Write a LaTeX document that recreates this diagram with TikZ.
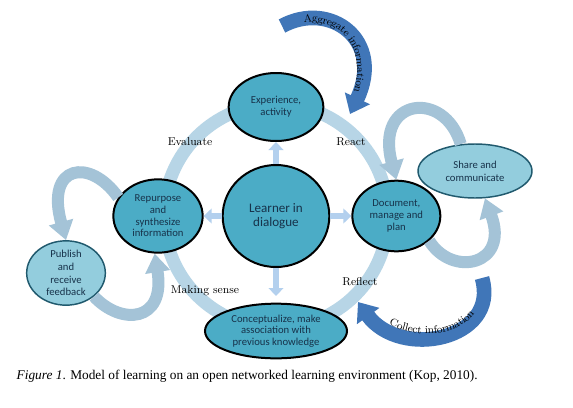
\documentclass[tikz,border=0pt]{standalone}
\usepackage{fontspec}
\usetikzlibrary{shapes,arrows.meta,positioning,backgrounds,decorations.text}

\newfontfamily\nodefont{Carlito}
\newfontfamily\capfont{Liberation Serif}
\newcommand\arrowlbl{\fontsize{8}{9}\selectfont}

\definecolor{nodeteal}{HTML}{4BACC6}
\definecolor{lightteal}{HTML}{93CDDD}
\definecolor{tealedge}{HTML}{215A6E}
\definecolor{ringblue}{HTML}{B7D5E6}
\definecolor{loopblue}{HTML}{A4C3D7}
\definecolor{darkarrow}{HTML}{4076B8}
\definecolor{smallarrow}{HTML}{B3D0EE}
\definecolor{nodetext}{HTML}{17324A}

\begin{document}
\begin{tikzpicture}[
    x=0.75pt, y=-0.75pt,
    mainnode/.style={ellipse, draw=black, line width=1.5pt, fill=nodeteal, text=nodetext, align=center, inner sep=0pt, font=\nodefont\fontsize{8}{8.8}\selectfont},
    sidenode/.style={ellipse, draw=tealedge, line width=1.1pt, fill=lightteal, text=nodetext, align=center, inner sep=0pt, font=\nodefont\fontsize{8}{9.5}\selectfont},
    ringlabel/.style={font=\fontsize{8.5}{10}\selectfont},
    ringband/.style={draw=ringblue, line width=9.75pt},
    fatarrow/.style={draw=smallarrow, line width=5pt, -{Triangle[length=6pt,width=11pt]}},
    looparrow/.style={draw=loopblue, line width=9pt, -{Triangle[length=14pt,width=18pt]}},
    infoarrow/.style={draw=darkarrow, line width=11pt, -{Triangle[length=13pt,width=20pt]}},
    infotext/.style={decorate, decoration={text along path, text={#1}, text align=center}}
]

% Canvas
\useasboundingbox (0,0) rectangle (573,407);

% Centre and the four stages round it
\node [mainnode, minimum width=80pt, minimum height=76.5pt, font=\nodefont\fontsize{9.8}{10.3}\selectfont] (learner) at (276,216) {Learner in\\dialogue};
\node [mainnode, minimum width=71pt, minimum height=51pt, above=16.5pt of learner] (exp) {Experience,\\activity};
\node [mainnode, minimum width=67pt, minimum height=55pt, left=13.5pt of learner] (rep) {Repurpose\\and\\synthesize\\information};
\node [mainnode, minimum width=66pt, minimum height=53pt, right=15.75pt of learner] (doc) {Document,\\manage and\\plan};
\node [mainnode, minimum width=106.5pt, minimum height=41pt, below=26pt of learner] (con) {Conceptualize, make\\association with\\previous knowledge};

% Outer nodes
\node [sidenode, minimum width=59pt, minimum height=47pt] (pub) at (66,273) {Publish\\and\\receive\\feedback};
\node [sidenode, minimum width=85.5pt, minimum height=40.5pt] (share) at (475,171) {Share and\\communicate};

% Cycle ring behind the nodes
\begin{scope}[on background layer]
    \fill [white] (0,0) rectangle (573,407);
    \draw [ringband] (learner.center) circle [radius=112];
\end{scope}

\node [ringlabel] (evaluate) at (190,142) {Evaluate};
\node [ringlabel] (react) at (351,142) {React};
\node [ringlabel] (reflect) at (360,282) {Reflect};
\node [ringlabel] (sense) at (205,291) {Making sense};

% Arrows out of the centre
\draw [fatarrow] (learner) -- (exp);
\draw [fatarrow] (learner) -- (rep);
\draw [fatarrow] (learner) -- (doc);
\draw [fatarrow, shorten >=5pt] (learner) -- (con);

% Loops
\draw [looparrow] (rep.155) .. controls +(-28,-40) and +(-21,-76) .. (pub.north);
\draw [looparrow] (pub.-40) .. controls +(27,29) and +(11,69) .. (rep.-95);
\draw [looparrow] (share.118) .. controls +(-16,-55) and +(-22,-82) .. (doc.north);
\draw [looparrow] (doc.-37) .. controls +(23,37) and +(25,67) .. (share.-70);

% Information arrows
\coordinate (aggtail) at (282,26);
\coordinate (agghead) at (350,114);
\coordinate (coltail) at (482,278);
\coordinate (colhead) at (358,302);

\draw [infoarrow] (aggtail) .. controls +(48,-26) and +(35,-74) .. (agghead);
\path [infotext={|\arrowlbl|Aggregate information}, decoration={raise=-3pt}] (aggtail) .. controls +(48,-26) and +(35,-74) .. (agghead);

\draw [infoarrow] (coltail) .. controls +(18,62) and +(42,58) .. (colhead);
\path [infotext={|\arrowlbl|Collect information}, decoration={raise=2pt}] (colhead) .. controls +(42,58) and +(18,62) .. (coltail);

% Caption
\node [anchor=west, font=\capfont\fontsize{10}{12}\selectfont] (caption) at (12,376) {\textit{Figure 1}. Model of learning on an open networked learning environment (Kop, 2010).};

\end{tikzpicture}
\end{document}
